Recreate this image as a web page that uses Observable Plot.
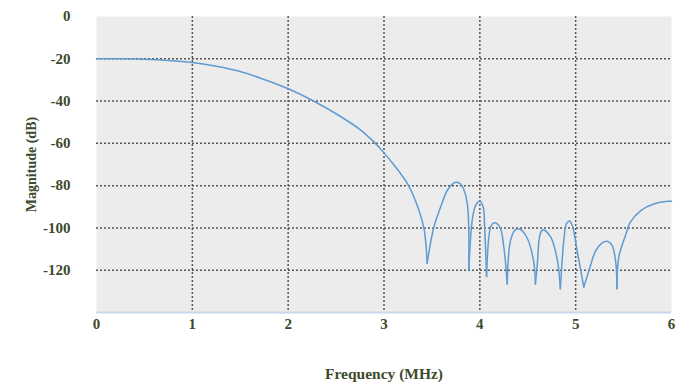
<!DOCTYPE html>
<html><head><meta charset="utf-8">
<script src="https://cdn.jsdelivr.net/npm/d3@7"></script>
<script src="https://cdn.jsdelivr.net/npm/@observablehq/plot@0.6"></script>
<style>
html,body{margin:0;padding:0;background:#fff;}
</style>
</head><body>
<div id="chart"></div>
<script>
const freq = [0,0.25,0.5,0.75,1,1.25,1.5,1.75,2,2.25,2.5,2.75,2.91,3,3.1,3.25,3.36,3.42,3.45,
  3.52,3.59,3.66,3.72,3.76,3.80,3.83,3.87,3.885,
  3.92,3.955,4.0,4.035,4.05,4.07,
  4.094,4.118,4.153,4.21,4.25,4.286,
  4.32,4.37,4.42,4.49,4.56,4.58,
  4.60,4.63,4.66,4.74,4.81,4.84,
  4.88,4.905,4.94,4.97,5.02,5.085,
  5.14,5.21,5.28,5.33,5.38,5.42,5.43,
  5.45,5.52,5.57,5.68,5.82,5.96,6.0];
const magnitude = [-20,-20,-20.2,-20.8,-21.8,-23.5,-26,-29.8,-34.2,-39.6,-46,-53.5,-60,-64.5,-70,-79.5,-91,-101,-116.7,
  -99.7,-90.2,-82.3,-79,-78.4,-79.3,-81.5,-88.6,-119.8,
  -96.5,-89.4,-87.4,-90.2,-99.7,-123,
  -104.4,-98.9,-97.6,-99.7,-109,-126.5,
  -106,-100.9,-100.6,-104.4,-115.4,-126.5,
  -117,-102.8,-100.9,-104.4,-115.4,-128.8,
  -104.4,-98,-96.8,-99.7,-112,-128,
  -120,-110.7,-107,-106.3,-108.3,-117,-128.8,
  -113.8,-103.6,-97.3,-91.8,-88.6,-87.4,-87.4];
const xTicks = [0,1,2,3,4,5,6];
const yTicks = [0,-20,-40,-60,-80,-100,-120];
const xGrid = [1,2,3,4,5];
const yGrid = [-20,-40,-60,-80,-100,-120];

// split the response into lobes at its nulls (local minima), sharing each null point
const data = [];
let lobe = 0;
freq.forEach((f,i)=>{
  data.push({f, m: magnitude[i], lobe});
  const isNull = i > 0 && i < freq.length-1 && magnitude[i] < magnitude[i-1] && magnitude[i] < magnitude[i+1];
  if (isNull) { lobe++; data.push({f, m: magnitude[i], lobe}); }
});

const labelColor = "#3d4a2c";
const font = "'Liberation Serif','DejaVu Serif',serif";

const chart = Plot.plot({
  width: 682, height: 384,
  marginLeft: 96, marginRight: 11, marginTop: 16, marginBottom: 72,
  style: {fontFamily: font, fontWeight: "bold", fontSize: "15px", color: labelColor, background: "#fff"},
  x: {domain: [0,6]},
  y: {domain: [-140,0]},
  marks: [
    Plot.frame({fill: "#ececec", stroke: null}),
    Plot.ruleX(xGrid, {stroke: "#555", strokeDasharray: "2,2", strokeWidth: 1.5}),
    Plot.ruleY(yGrid, {stroke: "#555", strokeDasharray: "2,2", strokeWidth: 1.5}),
    Plot.ruleY([-140], {stroke: "#c9d8ea", strokeWidth: 2}),
    Plot.axisY({ticks: yTicks, tickFormat: d => String(d), tickSize: 0, tickPadding: 26,
      label: "Magnitude (dB)", labelAnchor: "center", labelArrow: "none", labelOffset: 70, fontSize: 15}),
    Plot.axisX({ticks: xTicks, tickFormat: d => String(d), tickSize: 0, tickPadding: 6,
      label: "Frequency (MHz)", labelAnchor: "center", labelArrow: "none", labelOffset: 66, fontSize: 15}),
    Plot.line(data, {x: "f", y: "m", z: "lobe", curve: "catmull-rom", stroke: "#5f9bd3", strokeWidth: 1.5})
  ]
});
chart.querySelectorAll("[aria-label='y-axis label'] text").forEach(t=>t.setAttribute("font-size","14"));
chart.querySelectorAll("[aria-label='x-axis label'] text").forEach(t=>t.setAttribute("font-size","15.5"));
document.getElementById("chart").appendChild(chart);
</script>
</body></html>
